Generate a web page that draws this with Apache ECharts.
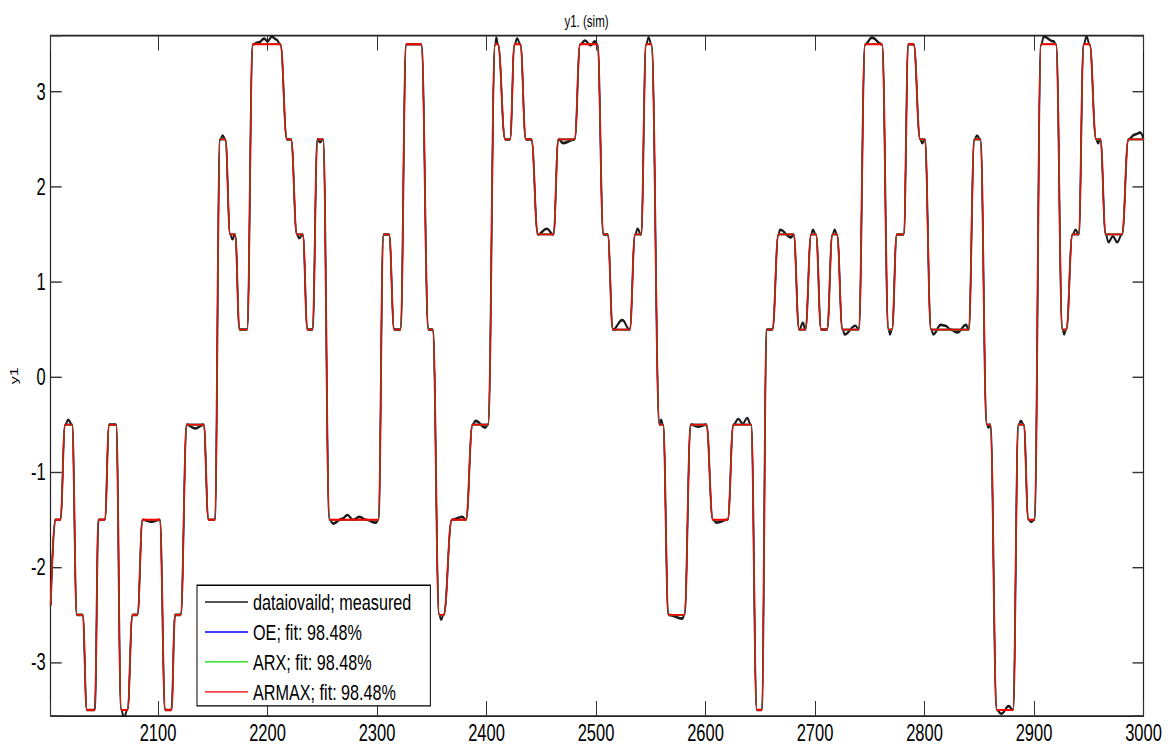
<!DOCTYPE html>
<html>
<head>
<meta charset="utf-8">
<script src="https://cdn.jsdelivr.net/npm/echarts@6/dist/echarts.min.js"></script>
<style>
html,body{margin:0;padding:0;background:#ffffff;overflow:hidden;}
#wrap{width:1173px;height:749px;overflow:hidden;}
/* the reference figure is a MATLAB plot stretched vertically (tall text, thick horizontal strokes) */
#chart{width:1173px;height:535px;transform:scale(1,1.4);transform-origin:0 0;}
</style>
</head>
<body>
<div id="wrap"><div id="chart"></div></div>
<script>
// ---- data ----
// model response (OE / ARX / ARMAX practically coincide): corner points
const modelX = [
 2002, 2006.2, 2010.7, 2015.3, 2021.4, 2026.0, 2031.1, 2035.1, 2042.1, 2045.8,
 2051.3, 2055.5, 2061.6, 2066.5, 2072.0, 2076.8, 2081.1, 2086.0, 2101.5, 2106.7,
 2112.1, 2115.7, 2120.6, 2126.4, 2141.6, 2146.2, 2151.7, 2156.8, 2161.4, 2166.0,
 2170.3, 2174.6, 2181.2, 2186.7, 2211.7, 2217.8, 2221.4, 2226.9, 2232.1, 2236.6,
 2240.9, 2245.8, 2250.6, 2256.7, 2301.2, 2306.0, 2310.9, 2315.8, 2321.3, 2326.8,
 2340.4, 2347.1, 2350.8, 2356.9, 2360.8, 2368.4, 2381.2, 2387.3, 2401.3, 2408.0,
 2410.4, 2417.1, 2421.4, 2425.7, 2430.8, 2436.0, 2440.9, 2447.0, 2461.0, 2465.8,
 2480.4, 2485.6, 2501.2, 2506.9, 2510.6, 2515.5, 2530.7, 2535.8, 2541.0, 2545.9,
 2550.5, 2558.1, 2561.1, 2566.3, 2580.6, 2586.7, 2600.7, 2606.8, 2620.2, 2625.6,
 2641.5, 2647.0, 2651.2, 2656.1, 2661.0, 2666.7, 2680.4, 2685.6, 2691.1, 2696.6,
 2700.8, 2705.7, 2710.9, 2716.0, 2720.0, 2725.2, 2739.8, 2745.9, 2761.1, 2767.2,
 2770.2, 2774.8, 2780.9, 2785.4, 2790.0, 2796.1, 2800.1, 2806.1, 2840.2, 2845.7,
 2850.9, 2857.0, 2860.0, 2866.1, 2880.7, 2885.9, 2890.5, 2895.0, 2900.2, 2906.6,
 2920.0, 2926.1, 2929.4, 2935.2, 2940.7, 2945.5, 2950.7, 2956.8, 2960.5, 2965.6,
 2980.3, 2986.3, 3000
];
const modelY = [
 -2.4, -1.5, -1.5, -0.5, -0.5, -2.5, -2.5, -3.5, -3.5, -1.5,
 -1.5, -0.5, -0.5, -3.5, -3.5, -2.5, -2.5, -1.5, -1.5, -3.5,
 -3.5, -2.5, -2.5, -0.5, -0.5, -1.5, -1.5, 2.5, 2.5, 1.5,
 1.5, 0.5, 0.5, 3.5, 3.5, 2.5, 2.5, 1.5, 1.5, 0.5,
 0.5, 2.5, 2.5, -1.5, -1.5, 1.5, 1.5, 0.5, 0.5, 3.5,
 3.5, 0.5, 0.5, -2.5, -2.5, -1.5, -1.5, -0.5, -0.5, 3.5,
 3.5, 2.5, 2.5, 3.5, 3.5, 2.5, 2.5, 1.5, 1.5, 2.5,
 2.5, 3.5, 3.5, 1.5, 1.5, 0.5, 0.5, 1.5, 1.5, 3.5,
 3.5, -0.5, -0.5, -2.5, -2.5, -0.5, -0.5, -1.5, -1.5, -0.5,
 -0.5, -3.5, -3.5, 0.5, 0.5, 1.5, 1.5, 0.5, 0.5, 1.5,
 1.5, 0.5, 0.5, 1.5, 1.5, 0.5, 0.5, 3.5, 3.5, 0.5,
 0.5, 1.5, 1.5, 3.5, 3.5, 2.5, 2.5, 0.5, 0.5, 2.5,
 2.5, -0.5, -0.5, -3.5, -3.5, -0.5, -0.5, -1.5, -1.5, 3.5,
 3.5, 0.5, 0.5, 1.5, 1.5, 3.5, 3.5, 2.5, 2.5, 1.5,
 1.5, 2.5, 2.5
];
// measured signal: follows the model plus these visible deviations on the plateaus
const wiggleX = [
 2018, 2069, 2094, 2134, 2159, 2168, 2192, 2197, 2200, 2204, 2208, 2229, 2248,
 2260, 2268, 2273, 2278, 2284, 2290, 2299, 2358.5, 2378, 2390, 2399, 2409, 2428,
 2455, 2470, 2490, 2495, 2499, 2524, 2538, 2548, 2559.5, 2579, 2593, 2610,
 2630, 2634, 2638, 2668, 2678, 2689, 2698, 2718, 2727, 2737, 2752, 2768.5, 2798,
 2808, 2815, 2819, 2824, 2830, 2838, 2848, 2858.5, 2870, 2877, 2888, 2897.5,
 2909, 2918, 2927.5, 2938, 2948, 2958.5, 2968, 2972, 2976, 2992, 2997
];
const wiggleY = [
 -0.45, -3.58, -1.52, -0.54, 2.54, 1.45, 3.52, 3.56, 3.53, 3.58, 3.55, 1.46, 2.47,
 -1.54, -1.49, -1.45, -1.50, -1.47, -1.50, -1.53, -2.55, -1.47, -0.46, -0.53, 3.57, 3.56,
 1.56, 2.46, 3.54, 3.49, 3.53, 0.60, 1.56, 3.57, -0.45, -2.54, -0.52, -1.53,
 -0.44, -0.49, -0.43, 1.55, 1.47, 0.57, 1.55, 1.55, 0.45, 0.54, 3.57, 0.45, 2.46,
 0.45, 0.55, 0.54, 0.50, 0.47, 0.55, 2.54, -0.53, -3.54, -3.46, -0.46, -1.52,
 3.58, 3.53, 0.45, 1.55, 3.58, 2.46, 1.42, 1.48, 1.42, 2.55, 2.57
];
const seriesNames = ['dataiovaild; measured', 'OE; fit: 98.48%', 'ARX; fit: 98.48%', 'ARMAX; fit: 98.48%'];
const seriesColors = ['#1a1a1a', '#0000ff', '#00dd00', '#ff0000'];
const xRange = [2002, 3000];
const yRange = [-3.56, 3.59];

// ---- build ----
const model = modelX.map((x, i) => [x, modelY[i]]);
const measured = model.concat(wiggleX.map((x, i) => [x, wiggleY[i]])).sort((a, b) => a[0] - b[0]);
const FONT = '"Liberation Sans", Arial, sans-serif';

const chart = echarts.init(document.getElementById('chart'), null, {renderer: 'svg'});

function mkX(pos) {
  return {
    type: 'value', position: pos, min: xRange[0], max: xRange[1], splitNumber: 10,
    axisLine: {show: true, onZero: false, lineStyle: {color: '#222', width: 1.3}},
    axisTick: {show: true, inside: true, length: 10.5, lineStyle: {color: '#333', width: 1}},
    axisLabel: {show: pos === 'bottom', margin: 4, color: '#000', fontSize: 16.5, fontFamily: FONT,
      formatter: v => (Math.abs(v % 100) < 1e-6 ? String(v) : '')},
    splitLine: {show: false}
  };
}
function mkY(pos) {
  return {
    type: 'value', position: pos, min: yRange[0], max: yRange[1], splitNumber: 7,
    name: pos === 'left' ? 'y1' : '', nameLocation: 'middle', nameGap: 25, nameRotate: 90,
    nameTextStyle: {color: '#000', fontSize: 11.5, fontFamily: FONT},
    axisLine: {show: true, onZero: false, lineStyle: {color: '#222', width: 1.2}},
    axisTick: {show: true, inside: true, length: 11, lineStyle: {color: '#333', width: 1}},
    axisLabel: {show: pos === 'left', margin: 5, color: '#000', fontSize: 16.5, fontFamily: FONT,
      formatter: v => (Math.abs(v - Math.round(v)) < 1e-6 ? String(Math.round(v)) : '')},
    splitLine: {show: false}
  };
}

const datas = [measured, model, model, model];
const widths = [1.9, 1.2, 1.2, 1.3];

chart.setOption({
  animation: false,
  backgroundColor: '#ffffff',
  title: {text: 'y1. (sim)', left: 'center', top: 4,
    textStyle: {fontSize: 11.5, fontWeight: 'normal', color: '#000', fontFamily: FONT}},
  grid: {left: 50.7, right: 29.5, top: 25.5, bottom: 23.8, containLabel: false, outerBoundsMode: 'none'},
  legend: {
    data: seriesNames, orient: 'vertical', left: 197, top: 418,
    icon: 'rect', itemWidth: 43, itemHeight: 1, itemGap: 5.4, padding: [4, 19, 2, 8],
    backgroundColor: '#fff', borderColor: '#000', borderWidth: 1, borderRadius: 0,
    selectedMode: false,
    textStyle: {fontSize: 16.2, lineHeight: 16, color: '#000', fontFamily: FONT}
  },
  xAxis: [mkX('bottom'), mkX('top')],
  yAxis: [mkY('left'), mkY('right')],
  series: seriesNames.map((n, i) => ({
    name: n, type: 'line', xAxisIndex: 0, yAxisIndex: 0,
    data: datas[i], symbol: 'none', showSymbol: false,
    smooth: 0.45, smoothMonotone: 'x', clip: true,
    lineStyle: {color: seriesColors[i], width: widths[i]},
    itemStyle: {color: seriesColors[i]},
    z: 2 + i
  }))
});
</script>
</body>
</html>
